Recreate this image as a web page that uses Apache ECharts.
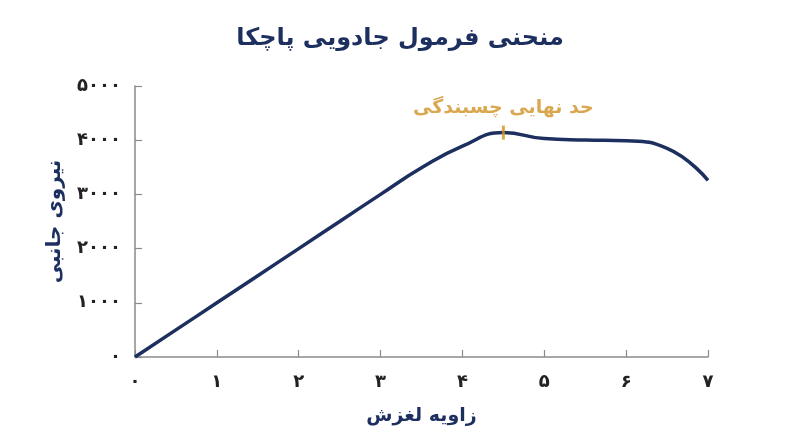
<!DOCTYPE html>
<html>
<head>
<meta charset="utf-8">
<script src="https://cdn.jsdelivr.net/npm/echarts@6/dist/echarts.min.js"></script>
<style>
  html, body { margin: 0; padding: 0; background: #fff; }
  #chart { width: 800px; height: 447px; }
</style>
</head>
<body>
<div id="chart"></div>
<script>
// slip angle vs lateral force (every half degree)
const slipAngle = [0, 0.5, 1, 1.5, 2, 2.5, 3, 3.5, 4, 4.5, 5, 5.5, 6, 6.5, 7];
const lateralForce = [0, 500, 1000, 1500, 2000, 2500, 3000, 3490, 3890, 4140, 4030, 4005, 3990, 3850, 3260];
const peakPoint = [4.5, 4140];
const peakLabel = 'حد نهایی چسبندگی';
const titleText = 'منحنی فرمول جادویی پاچکا';
const xName = 'زاویه لغزش';
const yName = 'نیروی جانبی';

const faDigits = '۰۱۲۳۴۵۶۷۸۹';
const toFa = v => String(v).replace(/\d/g, d => faDigits[d]);

const navy = '#1c2f5e';
const gold = '#cf9226';
const font = 'DejaVu Sans';

const chart = echarts.init(document.getElementById('chart'));
chart.setOption({
  animation: false,
  title: {
    text: titleText,
    left: 'center',
    top: 22,
    textStyle: { fontFamily: font, fontSize: 24, fontWeight: 'bold', color: navy }
  },
  grid: { left: 135, right: 92, top: 86, bottom: 90 },
  xAxis: {
    type: 'value',
    min: 0, max: 7, interval: 1,
    name: xName,
    nameLocation: 'middle',
    nameGap: 50,
    nameTextStyle: { fontFamily: font, fontSize: 19, fontWeight: 'bold', color: navy },
    axisLine: { lineStyle: { color: '#8a8a8a', width: 1.5 } },
    axisTick: { inside: true, length: 7, lineStyle: { color: '#8a8a8a', width: 1.2 } },
    splitLine: { show: false },
    axisLabel: { formatter: toFa, margin: 16, fontFamily: font, fontSize: 18, fontWeight: 'bold', color: '#222' }
  },
  yAxis: {
    type: 'value',
    min: 0, max: 5000, interval: 1000,
    name: yName,
    nameLocation: 'middle',
    nameGap: 70,
    nameTextStyle: { fontFamily: font, fontSize: 20, fontWeight: 'bold', color: navy },
    axisLine: { show: true, lineStyle: { color: '#8a8a8a', width: 1.5 } },
    axisTick: { show: true, inside: true, length: 7, lineStyle: { color: '#8a8a8a', width: 1.2 } },
    splitLine: { show: false },
    axisLabel: { formatter: toFa, margin: 14, fontFamily: font, fontSize: 18, fontWeight: 'bold', color: '#222' }
  },
  series: [
    {
      type: 'line',
      data: slipAngle.map((x, i) => [x, lateralForce[i]]),
      smooth: 0.5,
      showSymbol: false,
      lineStyle: { color: navy, width: 3.5 },
      z: 2
    },
    {
      type: 'scatter',
      data: [peakPoint],
      symbol: 'rect',
      symbolSize: [3, 14],
      itemStyle: { color: gold },
      label: {
        show: true,
        position: 'top',
        distance: 8,
        formatter: peakLabel,
        fontFamily: font,
        fontSize: 19,
        fontWeight: 'bold',
        color: gold
      },
      z: 3
    }
  ]
});
</script>
</body>
</html>
